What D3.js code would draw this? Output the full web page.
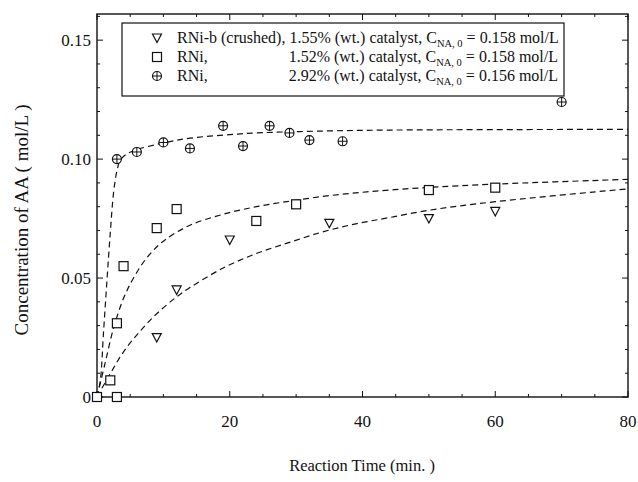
<!DOCTYPE html>
<html><head><meta charset="utf-8">
<script src="https://cdn.jsdelivr.net/npm/d3@7"></script>
<style>body{margin:0;background:#fff}svg{display:block}</style>
</head><body><svg id="c" width="638" height="482" font-family="'Liberation Serif', 'Times New Roman', Tinos, 'DejaVu Serif', serif"></svg>
<script>
const xTicks = [0, 20, 40, 60, 80];
const yTicks = [0, 0.05, 0.10, 0.15];
const yTickLabels = ["0", "0.05", "0.10", "0.15"];

const triT = [9, 12, 20, 35, 50, 60];
const triY = [0.025, 0.045, 0.066, 0.073, 0.075, 0.078];
const sqT = [0, 2, 3, 3, 4, 9, 12, 24, 30, 50, 60];
const sqY = [0, 0.007, 0, 0.031, 0.055, 0.071, 0.079, 0.074, 0.081, 0.087, 0.088];
const cirT = [3, 6, 10, 14, 19, 22, 26, 29, 32, 37, 70];
const cirY = [0.100, 0.103, 0.107, 0.1045, 0.114, 0.1055, 0.114, 0.111, 0.108, 0.1075, 0.124];

const fitCirT = [0, 0.5, 1, 1.5, 2, 2.5, 3, 3.5, 4.5, 6, 10, 14, 20, 24, 34, 44, 60, 80];
const fitCirY = [0, 0.007, 0.028, 0.049, 0.069, 0.086, 0.0950, 0.0995, 0.1022, 0.1040, 0.1068, 0.1088, 0.1103, 0.111, 0.1118, 0.1122, 0.1124, 0.1125];
const fitSqT = [0, 1.2, 2.5, 4, 5.5, 7.5, 10, 14, 19, 24, 29, 34, 39, 44, 50, 60, 80];
const fitSqY = [0, 0.014, 0.029, 0.0415, 0.050, 0.0585, 0.0655, 0.0722, 0.0768, 0.0800, 0.0823, 0.0843, 0.0858, 0.087, 0.0881, 0.0895, 0.0915];
const fitTriT = [0, 2, 4, 6.5, 9, 12, 14, 19, 24, 29, 34, 39, 44, 50, 60, 80];
const fitTriY = [0, 0.0098, 0.019, 0.0277, 0.035, 0.0421, 0.046, 0.0542, 0.0603, 0.065, 0.0694, 0.0728, 0.0754, 0.0785, 0.0821, 0.0875];

const L = 97, R = 628, T = 14, B = 397;
const x = d3.scaleLinear().domain([0, 80]).range([L, R]);
const y = d3.scaleLinear().domain([0, 0.161]).range([B, T]);
const svg = d3.select("#c");
const ink = "#111";

const g = svg.append("g").attr("stroke", ink).attr("stroke-width", 1);
d3.range(0, 81, 5).forEach(v => {
  const len = (v % 20 === 0) ? 6 : 3;
  g.append("line").attr("x1", x(v)).attr("x2", x(v)).attr("y1", B).attr("y2", B - len);
  g.append("line").attr("x1", x(v)).attr("x2", x(v)).attr("y1", T).attr("y2", T + len);
});
d3.range(0, 17).forEach(i => {
  const v = i * 0.01, len = (i % 5 === 0) ? 6 : 3;
  g.append("line").attr("y1", y(v)).attr("y2", y(v)).attr("x1", L).attr("x2", L + len);
  g.append("line").attr("y1", y(v)).attr("y2", y(v)).attr("x1", R).attr("x2", R - len);
});

svg.append("rect").attr("x", L).attr("y", T).attr("width", R - L).attr("height", B - T)
  .attr("fill", "none").attr("stroke", ink).attr("stroke-width", 1.4);

svg.selectAll(".xl").data(xTicks).enter().append("text")
  .attr("x", d => x(d)).attr("y", 427).attr("text-anchor", "middle").attr("fill", ink)
  .attr("font-size", 17).text(d => d);
svg.selectAll(".yl").data(yTicks).enter().append("text")
  .attr("x", 91).attr("y", d => y(d) + 6).attr("text-anchor", "end").attr("fill", ink)
  .attr("font-size", 17).text((d, i) => yTickLabels[i]);

svg.append("text").attr("x", 362).attr("y", 471).attr("text-anchor", "middle").attr("fill", ink)
  .attr("font-size", 16.5).text("Reaction Time (min. )");
svg.append("text").attr("transform", "translate(28,220) rotate(-90)").attr("text-anchor", "middle").attr("fill", ink)
  .attr("font-size", 19).text("Concentration of AA ( mol/L )");

const line = d3.line().x(d => x(d[0])).y(d => y(d[1])).curve(d3.curveCatmullRom.alpha(0.5));
const fits = [[fitCirT, fitCirY], [fitSqT, fitSqY], [fitTriT, fitTriY]];
fits.forEach(([t, v]) => {
  svg.append("path").datum(t.map((d, i) => [d, v[i]])).attr("d", line)
    .attr("fill", "none").attr("stroke", ink).attr("stroke-width", 1.2)
    .attr("stroke-dasharray", "6,4");
});

function tri(sel, cx, cy) {
  sel.append("path").attr("d", `M${cx - 4.5},${cy - 4}L${cx + 4.5},${cy - 4}L${cx},${cy + 4.5}Z`)
    .attr("fill", "#fff").attr("stroke", ink).attr("stroke-width", 1.2);
}
function sq(sel, cx, cy) {
  sel.append("rect").attr("x", cx - 4.5).attr("y", cy - 4.5).attr("width", 9).attr("height", 9)
    .attr("fill", "#fff").attr("stroke", ink).attr("stroke-width", 1.2);
}
function cir(sel, cx, cy) {
  sel.append("circle").attr("cx", cx).attr("cy", cy).attr("r", 4.5)
    .attr("fill", "#fff").attr("stroke", ink).attr("stroke-width", 1.2);
  sel.append("path").attr("d", `M${cx - 4.5},${cy}H${cx + 4.5}M${cx},${cy - 4.5}V${cy + 4.5}`)
    .attr("stroke", ink).attr("stroke-width", 1);
}
const mg = svg.append("g");
triT.forEach((t, i) => tri(mg, x(t), y(triY[i])));
sqT.forEach((t, i) => sq(mg, x(t), y(sqY[i])));
cirT.forEach((t, i) => cir(mg, x(t), y(cirY[i])));

const lg = svg.append("g");
lg.append("rect").attr("x", 122).attr("y", 23).attr("width", 442).attr("height", 73)
  .attr("fill", "#fff").attr("stroke", ink).attr("stroke-width", 1.2);
const rows = [
  {sym: tri, name: "RNi-b (crushed), ", rest: "1.55% (wt.) catalyst, C", val: " = 0.158 mol/L"},
  {sym: sq, name: "RNi,", rest: "1.52% (wt.) catalyst, C", val: " = 0.158 mol/L"},
  {sym: cir, name: "RNi,", rest: "2.92% (wt.) catalyst, C", val: " = 0.156 mol/L"}
];
rows.forEach((r, i) => {
  const cy = 38 + i * 19;
  r.sym(lg, 157, cy);
  if (i === 0) {
    const t = lg.append("text").attr("x", 177).attr("y", cy + 5).attr("font-size", 16).attr("fill", ink);
    t.append("tspan").text(r.name + r.rest);
    t.append("tspan").attr("font-size", 10.5).attr("dy", 4).text("NA, 0");
    t.append("tspan").attr("dy", -4).text(r.val);
  } else {
    lg.append("text").attr("x", 177).attr("y", cy + 5).attr("font-size", 16).attr("fill", ink).text(r.name);
    const t = lg.append("text").attr("x", 558).attr("y", cy + 5).attr("font-size", 16).attr("fill", ink).attr("text-anchor", "end");
    t.append("tspan").text(r.rest);
    t.append("tspan").attr("font-size", 10.5).attr("dy", 4).text("NA, 0");
    t.append("tspan").attr("dy", -4).text(r.val);
  }
});
</script></body></html>
